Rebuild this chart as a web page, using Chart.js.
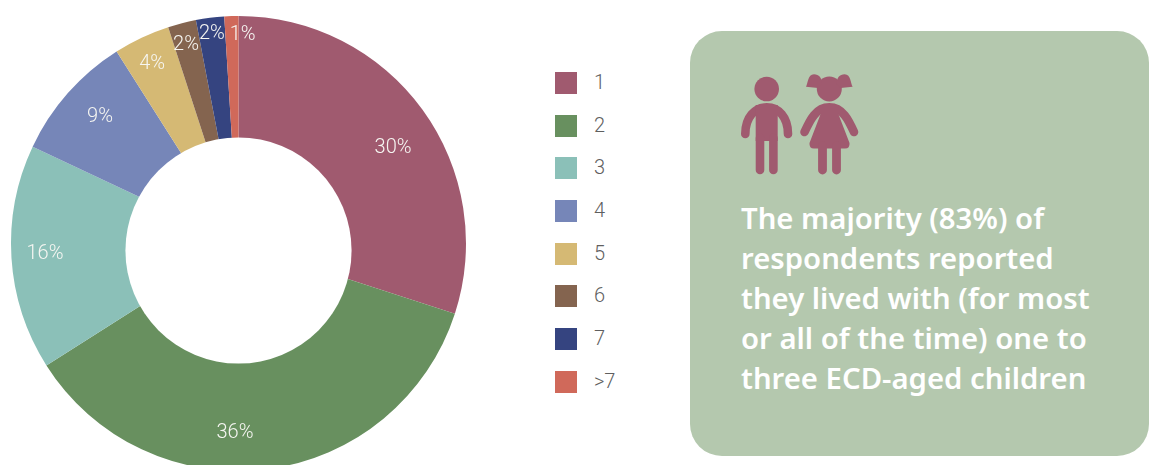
<!DOCTYPE html>
<html>
<head>
<meta charset="utf-8">
<script src="https://cdn.jsdelivr.net/npm/chart.js@4"></script>
<style>
  html, body { margin: 0; width: 1150px; height: 465px; overflow: hidden; background: #fff; }
  #donut { position: absolute; left: 0; top: 5px; }

  #legend { position: absolute; left: 555px; top: 61.5px; font: 300 20px Roboto, sans-serif; color: #5f5f5f; }
  .row { display: flex; align-items: center; height: 42.7px; }
  .row span:last-child { position: relative; top: -1px; }
  .swatch { width: 22px; height: 22px; margin-right: 17px; }

  #panel {
    position: absolute; left: 690px; top: 31px; width: 459px; height: 425px;
    border-radius: 32px; background: #b4c8ae;
  }
  #panel p {
    position: absolute; left: 51px; top: 167px; margin: 0; white-space: nowrap;
    font: 600 29.3px/40px "Noto Sans", sans-serif; color: #fff;
  }
  #kids { position: absolute; left: 0; top: 0; }
</style>
</head>
<body>
<canvas id="donut" width="477" height="477"></canvas>
<div id="legend"></div>
<div id="panel">
  <svg id="kids" width="459" height="160" viewBox="690 31 459 160">
    <g fill="#a05a6f" stroke="none">
      <!-- boy -->
      <circle cx="766.7" cy="89" r="12.3"/>
      <path d="M745.3 134 C745.3 117 755 107.3 766.7 107.3 C778.5 107.3 788 117 788 134"
            fill="none" stroke="#a05a6f" stroke-width="8.6" stroke-linecap="round"/>
      <rect x="755.7" y="105" width="22" height="36"/>
      <path d="M760 138 V170 M773.4 138 V170" stroke="#a05a6f" stroke-width="8.6" stroke-linecap="round"/>
      <!-- girl -->
      <circle cx="829.3" cy="89" r="12.5"/>
      <path d="M806 86.7 C808 84 807.5 74.3 814 74.3 C819 74.3 822 78 822 84 L818 88 Z"/>
      <path d="M852.6 86.7 C850.6 84 851.1 74.3 844.6 74.3 C839.6 74.3 836.6 78 836.6 84 L840.6 88 Z"/>
      <path d="M804.5 132 C810 120 816 107.3 829.3 107.3 C842.6 107.3 848.6 120 854 132"
            fill="none" stroke="#a05a6f" stroke-width="8.6" stroke-linecap="round"/>
      <path d="M821 106 H838 V113 L849.5 143 Q850 148.5 845 148.5 H814 Q809 148.5 809.5 143 L821 113 Z"/>
      <path d="M822.5 146 V170 M836.5 146 V170" stroke="#a05a6f" stroke-width="8.8" stroke-linecap="round"/>
    </g>
  </svg>
  <p>The majority (83%) of<br>respondents reported<br>they lived with (for most<br>or all of the time) one to<br>three ECD-aged children</p>
</div>

<script>
// Children in household, share of respondents
const CATEGORIES = ["1", "2", "3", "4", "5", "6", "7", ">7"];
const SHARES     = [30, 36, 16, 9, 4, 2, 2, 1];
const COLORS     = ["#a05a6f", "#68905f", "#8bc0b8", "#7686b8", "#d5b974", "#84644f", "#354480", "#d0695a"];

// Nudge of each percent label away from the middle of its slice
const LABEL_SHIFT = [[62.5, -28.6], [-17.8, 76.7], [-80, 3.4], [-53.2, -51.2], [-38, -76.6], [-24.2, -88.3], [-12.3, -97], [7.7, -94.5]];

// ── HOLE AND PERCENT LABELS ─────────────────────────────
// The hole sits a little below the centre of the pie, so it is
// painted over a full pie instead of using the cutout option.
const HOLE_DROP  = 7;
const HOLE_RATIO = 0.497;

const donutOverlay = {
  id: "donutOverlay",
  afterDatasetsDraw(chart) {
    const { ctx } = chart;
    const arcs = chart.getDatasetMeta(0).data;

    ctx.save();
    ctx.fillStyle = "#fff";
    ctx.beginPath();
    ctx.arc(arcs[0].x, arcs[0].y + HOLE_DROP, arcs[0].outerRadius * HOLE_RATIO, 0, Math.PI * 2);
    ctx.fill();

    ctx.font = "300 20px Roboto, sans-serif";
    ctx.fillStyle = "#f6f6f2";
    ctx.textAlign = "center";
    ctx.textBaseline = "middle";
    arcs.forEach((arc, i) => {
      const p = arc.getCenterPoint();
      ctx.fillText(SHARES[i] + "%", p.x + LABEL_SHIFT[i][0], p.y + LABEL_SHIFT[i][1]);
    });
    ctx.restore();
  },
};

// ── PIE ─────────────────────────────────────────────────
new Chart(document.getElementById("donut"), {
  type: "pie",
  data: {
    labels: CATEGORIES,
    datasets: [{
      data:            SHARES,
      backgroundColor: COLORS,
      borderWidth:     0,
    }],
  },
  options: {
    responsive: false,
    animation:  false,
    radius:     227.5,
    layout:     { padding: 0 },
    plugins: {
      legend:  { display: false },
      tooltip: { enabled: false },
    },
  },
  plugins: [donutOverlay],
});

// ── LEGEND ──────────────────────────────────────────────
const legend = document.getElementById("legend");
CATEGORIES.forEach((name, i) => {
  const row = document.createElement("div");
  row.className = "row";
  row.innerHTML = `<span class="swatch" style="background:${COLORS[i]}"></span><span></span>`;
  row.lastChild.textContent = name;
  legend.appendChild(row);
});
</script>
</body>
</html>
